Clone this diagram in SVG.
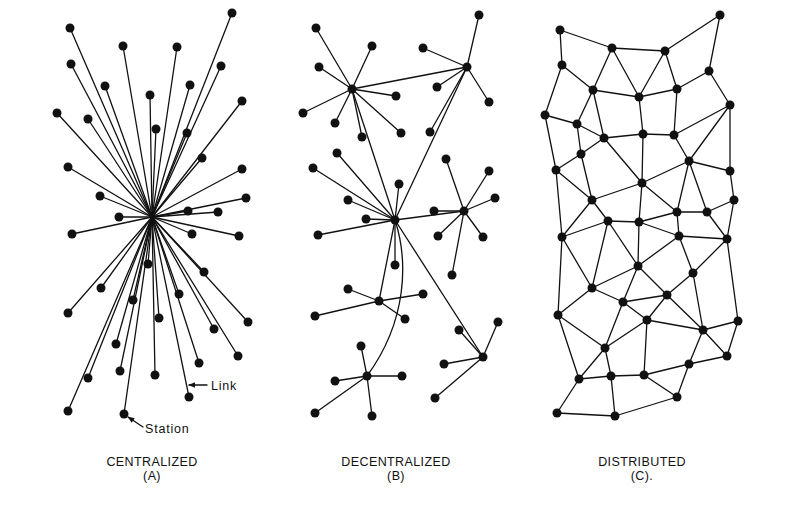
<svg xmlns="http://www.w3.org/2000/svg" width="800" height="505" viewBox="0 0 800 505">
<style>
.bg{fill:#fff}
#connectors line,#connectors path{stroke:#111;stroke-width:1.3;fill:none;stroke-linecap:round}
.n circle{fill:#111}
.lbl{font-family:"Liberation Sans",Arial,sans-serif;font-size:12.5px;fill:#111;text-anchor:middle;letter-spacing:0.4px}
.ann{font-family:"Liberation Sans",Arial,sans-serif;font-size:12.5px;fill:#111;letter-spacing:0.8px}
.arr{stroke:#111;stroke-width:1.2;fill:none}
</style>
<defs>
<marker id="ah" viewBox="0 0 10 10" refX="9" refY="5" markerWidth="7" markerHeight="7" orient="auto" markerUnits="userSpaceOnUse">
<path d="M0,1 L10,5 L0,9 Z" fill="#111"/>
</marker>
</defs>
<rect class="bg" width="800" height="505"/>
<g id="connectors">
<g id="links-a">
<line x1="152" y1="217" x2="70" y2="28"/><line x1="152" y1="217" x2="232" y2="13"/><line x1="152" y1="217" x2="123" y2="46"/><line x1="152" y1="217" x2="177" y2="47"/><line x1="152" y1="217" x2="71" y2="64"/><line x1="152" y1="217" x2="221" y2="66"/><line x1="152" y1="217" x2="105" y2="86"/><line x1="152" y1="217" x2="190" y2="85"/><line x1="152" y1="217" x2="150" y2="95"/><line x1="152" y1="217" x2="242" y2="101"/><line x1="152" y1="217" x2="57" y2="113"/><line x1="152" y1="217" x2="88" y2="119"/><line x1="152" y1="217" x2="156" y2="129"/><line x1="152" y1="217" x2="187" y2="133"/><line x1="152" y1="217" x2="202" y2="158"/><line x1="152" y1="217" x2="68" y2="167"/><line x1="152" y1="217" x2="242" y2="169"/><line x1="152" y1="217" x2="100" y2="196"/><line x1="152" y1="217" x2="246" y2="198"/><line x1="152" y1="217" x2="188" y2="211"/><line x1="152" y1="217" x2="218" y2="212"/><line x1="152" y1="217" x2="119" y2="217"/><line x1="152" y1="217" x2="72" y2="234"/><line x1="152" y1="217" x2="192" y2="234"/><line x1="152" y1="217" x2="239" y2="236"/><line x1="152" y1="217" x2="148" y2="264"/><line x1="152" y1="217" x2="204" y2="272"/><line x1="152" y1="217" x2="101" y2="288"/><line x1="152" y1="217" x2="179" y2="294"/><line x1="152" y1="217" x2="133" y2="300"/><line x1="152" y1="217" x2="68" y2="313"/><line x1="152" y1="217" x2="159" y2="318"/><line x1="152" y1="217" x2="248" y2="322"/><line x1="152" y1="217" x2="214" y2="329"/><line x1="152" y1="217" x2="116" y2="344"/><line x1="152" y1="217" x2="238" y2="356"/><line x1="152" y1="217" x2="199" y2="363"/><line x1="152" y1="217" x2="120" y2="371"/><line x1="152" y1="217" x2="88" y2="378"/><line x1="152" y1="217" x2="155" y2="375"/><line x1="152" y1="217" x2="189" y2="397"/><line x1="152" y1="217" x2="68" y2="411"/><line x1="152" y1="217" x2="124" y2="414"/>
</g>
<g id="links-b">
<line x1="352" y1="89" x2="316" y2="28"/><line x1="352" y1="89" x2="372" y2="46"/><line x1="352" y1="89" x2="319" y2="67"/><line x1="352" y1="89" x2="396" y2="96"/><line x1="352" y1="89" x2="303" y2="113"/><line x1="352" y1="89" x2="335" y2="123"/><line x1="352" y1="89" x2="362" y2="137"/><line x1="352" y1="89" x2="401" y2="133"/>
<line x1="467" y1="67" x2="479" y2="15"/><line x1="467" y1="67" x2="423" y2="48"/><line x1="467" y1="67" x2="437" y2="87"/><line x1="467" y1="67" x2="489" y2="102"/><line x1="467" y1="67" x2="430" y2="132"/>
<line x1="395" y1="220" x2="337" y2="153"/><line x1="395" y1="220" x2="313" y2="168"/><line x1="395" y1="220" x2="348" y2="200"/><line x1="395" y1="220" x2="399" y2="184"/><line x1="395" y1="220" x2="366" y2="219"/><line x1="395" y1="220" x2="318" y2="235"/><line x1="395" y1="220" x2="395" y2="265"/>
<line x1="464" y1="211" x2="446" y2="159"/><line x1="464" y1="211" x2="489" y2="171"/><line x1="464" y1="211" x2="495" y2="198"/><line x1="464" y1="211" x2="434" y2="211"/><line x1="464" y1="211" x2="438" y2="236"/><line x1="464" y1="211" x2="483" y2="237"/><line x1="464" y1="211" x2="452" y2="275"/>
<line x1="379" y1="301" x2="348" y2="289"/><line x1="379" y1="301" x2="423" y2="294"/><line x1="379" y1="301" x2="315" y2="316"/><line x1="379" y1="301" x2="405" y2="319"/>
<line x1="367" y1="376" x2="361" y2="346"/><line x1="367" y1="376" x2="335" y2="381"/><line x1="367" y1="376" x2="402" y2="376"/><line x1="367" y1="376" x2="315" y2="413"/><line x1="367" y1="376" x2="372" y2="416"/>
<line x1="483" y1="357" x2="459" y2="330"/><line x1="483" y1="357" x2="498" y2="322"/><line x1="483" y1="357" x2="444" y2="364"/><line x1="483" y1="357" x2="435" y2="398"/>
<line x1="352" y1="89" x2="467" y2="67"/><line x1="352" y1="89" x2="395" y2="220"/><line x1="467" y1="67" x2="395" y2="220"/><line x1="395" y1="220" x2="464" y2="211"/><line x1="395" y1="220" x2="379" y2="301"/><line x1="395" y1="220" x2="483" y2="357"/>
<path d="M395,220 C408,260 408,320 367,376"/>
</g>
<g id="links-c">
<line x1="560" y1="30" x2="612" y2="48"/><line x1="560" y1="30" x2="562" y2="65"/><line x1="612" y1="48" x2="665" y2="51"/><line x1="665" y1="51" x2="720" y2="15"/><line x1="720" y1="15" x2="709" y2="71"/><line x1="562" y1="65" x2="593" y2="90"/><line x1="562" y1="65" x2="545" y2="115"/><line x1="612" y1="48" x2="593" y2="90"/><line x1="612" y1="48" x2="639" y2="97"/><line x1="665" y1="51" x2="639" y2="97"/><line x1="665" y1="51" x2="677" y2="89"/><line x1="593" y1="90" x2="639" y2="97"/><line x1="639" y1="97" x2="677" y2="89"/><line x1="677" y1="89" x2="709" y2="71"/><line x1="709" y1="71" x2="730" y2="105"/><line x1="593" y1="90" x2="577" y2="124"/><line x1="593" y1="90" x2="604" y2="138"/><line x1="545" y1="115" x2="577" y2="124"/><line x1="545" y1="115" x2="556" y2="170"/><line x1="577" y1="124" x2="604" y2="138"/><line x1="577" y1="124" x2="581" y2="154"/><line x1="604" y1="138" x2="643" y2="134"/><line x1="643" y1="134" x2="674" y2="135"/><line x1="677" y1="89" x2="674" y2="135"/><line x1="639" y1="97" x2="643" y2="134"/><line x1="730" y1="105" x2="674" y2="135"/><line x1="730" y1="105" x2="689" y2="161"/><line x1="730" y1="105" x2="730" y2="171"/><line x1="674" y1="135" x2="689" y2="161"/><line x1="689" y1="161" x2="730" y2="171"/><line x1="689" y1="161" x2="642" y2="183"/><line x1="689" y1="161" x2="677" y2="212"/><line x1="689" y1="161" x2="707" y2="212"/><line x1="730" y1="171" x2="734" y2="200"/><line x1="643" y1="134" x2="642" y2="183"/><line x1="604" y1="138" x2="642" y2="183"/><line x1="581" y1="154" x2="604" y2="138"/><line x1="581" y1="154" x2="556" y2="170"/><line x1="556" y1="170" x2="592" y2="200"/><line x1="581" y1="154" x2="592" y2="200"/><line x1="592" y1="200" x2="642" y2="183"/><line x1="642" y1="183" x2="677" y2="212"/><line x1="734" y1="200" x2="707" y2="212"/><line x1="677" y1="212" x2="707" y2="212"/><line x1="642" y1="183" x2="639" y2="222"/><line x1="556" y1="170" x2="562" y2="237"/><line x1="592" y1="200" x2="562" y2="237"/><line x1="592" y1="200" x2="608" y2="221"/><line x1="608" y1="221" x2="639" y2="222"/><line x1="639" y1="222" x2="677" y2="212"/><line x1="677" y1="212" x2="679" y2="236"/><line x1="707" y1="212" x2="727" y2="239"/><line x1="734" y1="200" x2="727" y2="239"/><line x1="679" y1="236" x2="727" y2="239"/><line x1="639" y1="222" x2="679" y2="236"/><line x1="608" y1="221" x2="638" y2="266"/><line x1="639" y1="222" x2="638" y2="266"/><line x1="679" y1="236" x2="638" y2="266"/><line x1="679" y1="236" x2="693" y2="273"/><line x1="727" y1="239" x2="693" y2="273"/><line x1="727" y1="239" x2="738" y2="321"/><line x1="608" y1="221" x2="592" y2="288"/><line x1="562" y1="237" x2="592" y2="288"/><line x1="562" y1="237" x2="608" y2="221"/><line x1="562" y1="237" x2="558" y2="315"/><line x1="638" y1="266" x2="592" y2="288"/><line x1="638" y1="266" x2="623" y2="302"/><line x1="638" y1="266" x2="667" y2="295"/><line x1="693" y1="273" x2="667" y2="295"/><line x1="693" y1="273" x2="703" y2="330"/><line x1="592" y1="288" x2="623" y2="302"/><line x1="592" y1="288" x2="558" y2="315"/><line x1="623" y1="302" x2="667" y2="295"/><line x1="623" y1="302" x2="647" y2="320"/><line x1="667" y1="295" x2="647" y2="320"/><line x1="667" y1="295" x2="703" y2="330"/><line x1="647" y1="320" x2="703" y2="330"/><line x1="703" y1="330" x2="738" y2="321"/><line x1="703" y1="330" x2="727" y2="356"/><line x1="738" y1="321" x2="727" y2="356"/><line x1="703" y1="330" x2="689" y2="364"/><line x1="647" y1="320" x2="605" y2="348"/><line x1="623" y1="302" x2="605" y2="348"/><line x1="558" y1="315" x2="605" y2="348"/><line x1="558" y1="315" x2="579" y2="379"/><line x1="605" y1="348" x2="579" y2="379"/><line x1="605" y1="348" x2="611" y2="376"/><line x1="647" y1="320" x2="644" y2="375"/><line x1="579" y1="379" x2="611" y2="376"/><line x1="611" y1="376" x2="644" y2="375"/><line x1="644" y1="375" x2="689" y2="364"/><line x1="727" y1="356" x2="689" y2="364"/><line x1="644" y1="375" x2="677" y2="397"/><line x1="689" y1="364" x2="677" y2="397"/><line x1="579" y1="379" x2="557" y2="413"/><line x1="557" y1="413" x2="615" y2="416"/><line x1="611" y1="376" x2="615" y2="416"/><line x1="615" y1="416" x2="677" y2="397"/>
</g>
<line class="arr" x1="207" y1="385" x2="189" y2="385" marker-end="url(#ah)"/>
<line class="arr" x1="143" y1="427" x2="128" y2="417" marker-end="url(#ah)"/>
</g>
<g id="nodes-a" class="n">
<g id="a1"><circle cx="70" cy="28" r="4.5"/></g><g id="a2"><circle cx="232" cy="13" r="4.5"/></g><g id="a3"><circle cx="123" cy="46" r="4.5"/></g><g id="a4"><circle cx="177" cy="47" r="4.5"/></g><g id="a5"><circle cx="71" cy="64" r="4.5"/></g><g id="a6"><circle cx="221" cy="66" r="4.5"/></g><g id="a7"><circle cx="105" cy="86" r="4.5"/></g><g id="a8"><circle cx="190" cy="85" r="4.5"/></g><g id="a9"><circle cx="150" cy="95" r="4.5"/></g><g id="a10"><circle cx="242" cy="101" r="4.5"/></g><g id="a11"><circle cx="57" cy="113" r="4.5"/></g><g id="a12"><circle cx="88" cy="119" r="4.5"/></g><g id="a13"><circle cx="156" cy="129" r="4.5"/></g><g id="a14"><circle cx="187" cy="133" r="4.5"/></g><g id="a15"><circle cx="202" cy="158" r="4.5"/></g><g id="a16"><circle cx="68" cy="167" r="4.5"/></g><g id="a17"><circle cx="242" cy="169" r="4.5"/></g><g id="a18"><circle cx="100" cy="196" r="4.5"/></g><g id="a19"><circle cx="246" cy="198" r="4.5"/></g><g id="a20"><circle cx="188" cy="211" r="4.5"/></g><g id="a21"><circle cx="218" cy="212" r="4.5"/></g><g id="a22"><circle cx="119" cy="217" r="4.5"/></g><g id="a23"><circle cx="72" cy="234" r="4.5"/></g><g id="a24"><circle cx="192" cy="234" r="4.5"/></g><g id="a25"><circle cx="239" cy="236" r="4.5"/></g><g id="a26"><circle cx="148" cy="264" r="4.5"/></g><g id="a27"><circle cx="204" cy="272" r="4.5"/></g><g id="a28"><circle cx="101" cy="288" r="4.5"/></g><g id="a29"><circle cx="179" cy="294" r="4.5"/></g><g id="a30"><circle cx="133" cy="300" r="4.5"/></g><g id="a31"><circle cx="68" cy="313" r="4.5"/></g><g id="a32"><circle cx="159" cy="318" r="4.5"/></g><g id="a33"><circle cx="248" cy="322" r="4.5"/></g><g id="a34"><circle cx="214" cy="329" r="4.5"/></g><g id="a35"><circle cx="116" cy="344" r="4.5"/></g><g id="a36"><circle cx="238" cy="356" r="4.5"/></g><g id="a37"><circle cx="199" cy="363" r="4.5"/></g><g id="a38"><circle cx="120" cy="371" r="4.5"/></g><g id="a39"><circle cx="88" cy="378" r="4.5"/></g><g id="a40"><circle cx="155" cy="375" r="4.5"/></g><g id="a41"><circle cx="189" cy="397" r="4.5"/></g><g id="a42"><circle cx="68" cy="411" r="4.5"/></g><g id="a43"><circle cx="124" cy="414" r="4.5"/></g>
</g>
<g id="nodes-b" class="n">
<g id="b-h1"><circle cx="352" cy="89" r="4.5"/></g><g id="b-h2"><circle cx="467" cy="67" r="4.5"/></g><g id="b-hm"><circle cx="395" cy="220" r="4.5"/></g><g id="b-h3"><circle cx="464" cy="211" r="4.5"/></g><g id="b-h4"><circle cx="379" cy="301" r="4.5"/></g><g id="b-h5"><circle cx="367" cy="376" r="4.5"/></g><g id="b-h6"><circle cx="483" cy="357" r="4.5"/></g>
<g id="b1"><circle cx="316" cy="28" r="4.5"/></g><g id="b2"><circle cx="372" cy="46" r="4.5"/></g><g id="b3"><circle cx="319" cy="67" r="4.5"/></g><g id="b4"><circle cx="396" cy="96" r="4.5"/></g><g id="b5"><circle cx="303" cy="113" r="4.5"/></g><g id="b6"><circle cx="335" cy="123" r="4.5"/></g><g id="b7"><circle cx="362" cy="137" r="4.5"/></g><g id="b8"><circle cx="401" cy="133" r="4.5"/></g>
<g id="b9"><circle cx="479" cy="15" r="4.5"/></g><g id="b10"><circle cx="423" cy="48" r="4.5"/></g><g id="b11"><circle cx="437" cy="87" r="4.5"/></g><g id="b12"><circle cx="489" cy="102" r="4.5"/></g><g id="b13"><circle cx="430" cy="132" r="4.5"/></g>
<g id="b14"><circle cx="337" cy="153" r="4.5"/></g><g id="b15"><circle cx="313" cy="168" r="4.5"/></g><g id="b16"><circle cx="348" cy="200" r="4.5"/></g><g id="b17"><circle cx="399" cy="184" r="4.5"/></g><g id="b18"><circle cx="366" cy="219" r="4.5"/></g><g id="b19"><circle cx="318" cy="235" r="4.5"/></g><g id="b20"><circle cx="395" cy="265" r="4.5"/></g>
<g id="b21"><circle cx="446" cy="159" r="4.5"/></g><g id="b22"><circle cx="489" cy="171" r="4.5"/></g><g id="b23"><circle cx="495" cy="198" r="4.5"/></g><g id="b24"><circle cx="434" cy="211" r="4.5"/></g><g id="b25"><circle cx="438" cy="236" r="4.5"/></g><g id="b26"><circle cx="483" cy="237" r="4.5"/></g><g id="b27"><circle cx="452" cy="275" r="4.5"/></g>
<g id="b28"><circle cx="348" cy="289" r="4.5"/></g><g id="b29"><circle cx="423" cy="294" r="4.5"/></g><g id="b30"><circle cx="315" cy="316" r="4.5"/></g><g id="b31"><circle cx="405" cy="319" r="4.5"/></g>
<g id="b32"><circle cx="361" cy="346" r="4.5"/></g><g id="b33"><circle cx="335" cy="381" r="4.5"/></g><g id="b34"><circle cx="402" cy="376" r="4.5"/></g><g id="b35"><circle cx="315" cy="413" r="4.5"/></g><g id="b36"><circle cx="372" cy="416" r="4.5"/></g>
<g id="b37"><circle cx="459" cy="330" r="4.5"/></g><g id="b38"><circle cx="498" cy="322" r="4.5"/></g><g id="b39"><circle cx="444" cy="364" r="4.5"/></g><g id="b40"><circle cx="435" cy="398" r="4.5"/></g>
</g>
<g id="nodes-c" class="n">
<g id="c1"><circle cx="560" cy="30" r="4.5"/></g><g id="c2"><circle cx="720" cy="15" r="4.5"/></g><g id="c3"><circle cx="612" cy="48" r="4.5"/></g><g id="c4"><circle cx="665" cy="51" r="4.5"/></g><g id="c5"><circle cx="562" cy="65" r="4.5"/></g><g id="c6"><circle cx="709" cy="71" r="4.5"/></g><g id="c7"><circle cx="593" cy="90" r="4.5"/></g><g id="c8"><circle cx="677" cy="89" r="4.5"/></g><g id="c9"><circle cx="639" cy="97" r="4.5"/></g><g id="c10"><circle cx="730" cy="105" r="4.5"/></g><g id="c11"><circle cx="545" cy="115" r="4.5"/></g><g id="c12"><circle cx="577" cy="124" r="4.5"/></g><g id="c13"><circle cx="604" cy="138" r="4.5"/></g><g id="c14"><circle cx="643" cy="134" r="4.5"/></g><g id="c15"><circle cx="674" cy="135" r="4.5"/></g><g id="c16"><circle cx="581" cy="154" r="4.5"/></g><g id="c17"><circle cx="689" cy="161" r="4.5"/></g><g id="c18"><circle cx="556" cy="170" r="4.5"/></g><g id="c19"><circle cx="730" cy="171" r="4.5"/></g><g id="c20"><circle cx="642" cy="183" r="4.5"/></g><g id="c21"><circle cx="592" cy="200" r="4.5"/></g><g id="c22"><circle cx="734" cy="200" r="4.5"/></g><g id="c23"><circle cx="677" cy="212" r="4.5"/></g><g id="c24"><circle cx="707" cy="212" r="4.5"/></g><g id="c25"><circle cx="608" cy="221" r="4.5"/></g><g id="c26"><circle cx="639" cy="222" r="4.5"/></g><g id="c27"><circle cx="562" cy="237" r="4.5"/></g><g id="c28"><circle cx="679" cy="236" r="4.5"/></g><g id="c29"><circle cx="727" cy="239" r="4.5"/></g><g id="c30"><circle cx="638" cy="266" r="4.5"/></g><g id="c31"><circle cx="693" cy="273" r="4.5"/></g><g id="c32"><circle cx="592" cy="288" r="4.5"/></g><g id="c33"><circle cx="667" cy="295" r="4.5"/></g><g id="c34"><circle cx="623" cy="302" r="4.5"/></g><g id="c35"><circle cx="558" cy="315" r="4.5"/></g><g id="c36"><circle cx="647" cy="320" r="4.5"/></g><g id="c37"><circle cx="738" cy="321" r="4.5"/></g><g id="c38"><circle cx="703" cy="330" r="4.5"/></g><g id="c39"><circle cx="605" cy="348" r="4.5"/></g><g id="c40"><circle cx="727" cy="356" r="4.5"/></g><g id="c41"><circle cx="689" cy="364" r="4.5"/></g><g id="c42"><circle cx="579" cy="379" r="4.5"/></g><g id="c43"><circle cx="611" cy="376" r="4.5"/></g><g id="c44"><circle cx="644" cy="375" r="4.5"/></g><g id="c45"><circle cx="677" cy="397" r="4.5"/></g><g id="c46"><circle cx="557" cy="413" r="4.5"/></g><g id="c47"><circle cx="615" cy="416" r="4.5"/></g>
</g>
<g id="labels">
<text class="ann" x="211" y="390">Link</text>
<text class="ann" x="145" y="433">Station</text>
<text class="lbl" x="152" y="466">CENTRALIZED</text>
<text class="lbl" x="152" y="480">(A)</text>
<text class="lbl" x="396" y="466">DECENTRALIZED</text>
<text class="lbl" x="396" y="480">(B)</text>
<text class="lbl" x="642" y="466">DISTRIBUTED</text>
<text class="lbl" x="642" y="480">(C).</text>
</g>
</svg>
